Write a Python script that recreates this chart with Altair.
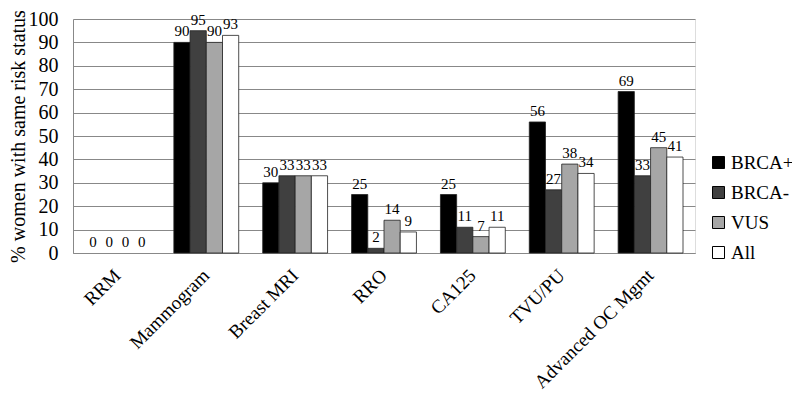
import altair as alt
import pandas as pd

categories = ["RRM", "Mammogram", "Breast MRI", "RRO", "CA125", "TVU/PU", "Advanced OC Mgmt"]
series = ["BRCA+", "BRCA-", "VUS", "All"]
brca_pos = [0, 90, 30, 25, 25, 56, 69]
brca_neg = [0, 95, 33, 2, 11, 27, 33]
vus = [0, 90, 33, 14, 7, 38, 45]
all_women = [0, 93, 33, 9, 11, 34, 41]
colors = ["#000000", "#404040", "#a6a6a6", "#ffffff"]
y_ticks = [0, 10, 20, 30, 40, 50, 60, 70, 80, 90, 100]

rows = []
for s, vals in zip(series, [brca_pos, brca_neg, vus, all_women]):
    for c, v in zip(categories, vals):
        rows.append({"cat": c, "series": s, "value": v})
df = pd.DataFrame(rows)

font = "Liberation Serif"

x = alt.X(
    "cat:N", sort=categories,
    scale=alt.Scale(paddingInner=0.27, paddingOuter=0.135),
    axis=alt.Axis(title=None, labelAngle=-45, labelFontSize=19, labelFont=font,
                  labelColor="black", ticks=False, domainColor="#888888",
                  labelBaseline="middle", labelAlign="right",
                  labelPadding=19, labelLimit=300),
)
xo = alt.XOffset("series:N", sort=series, scale=alt.Scale(paddingInner=0, paddingOuter=0))
y = alt.Y(
    "value:Q",
    scale=alt.Scale(domain=[0, 100], nice=False),
    axis=alt.Axis(values=y_ticks, title="% women with same risk status",
                  titleFont=font, titleFontSize=20, titleFontWeight="normal",
                  titleColor="black", titlePadding=0,
                  labelFont=font, labelFontSize=20, labelColor="black",
                  labelPadding=15, ticks=False, domainColor="#888888",
                  gridColor="#888888", gridWidth=1),
)

bars = alt.Chart(df).mark_bar(stroke="#222222").encode(
    x=x, xOffset=xo, y=y,
    strokeWidth=alt.condition(alt.datum.value > 0, alt.value(0.8), alt.value(0)),
    color=alt.Color(
        "series:N", sort=series,
        scale=alt.Scale(domain=series, range=colors),
        legend=alt.Legend(title=None, orient="none", legendX=636, legendY=134,
                          symbolType="square", symbolSize=144,
                          symbolStrokeColor="black", symbolStrokeWidth=1,
                          labelFont=font, labelFontSize=19, labelColor="black",
                          rowPadding=10, labelOffset=3, labelLimit=200),
    ),
)

labels = alt.Chart(df).mark_text(baseline="bottom", dy=-3, font=font, fontSize=15, color="black").encode(
    x=x, xOffset=xo, y=y, text=alt.Text("value:Q"),
)

chart = (bars + labels).properties(
    width=622, height=234,
    autosize=alt.AutoSizeParams(type="none"),
    padding={"left": 65, "top": 11, "right": 97, "bottom": 141},
).configure_view(stroke=None).configure(background="white")

chart.save("out.html", embed_options={"renderer": "svg", "actions": False})
